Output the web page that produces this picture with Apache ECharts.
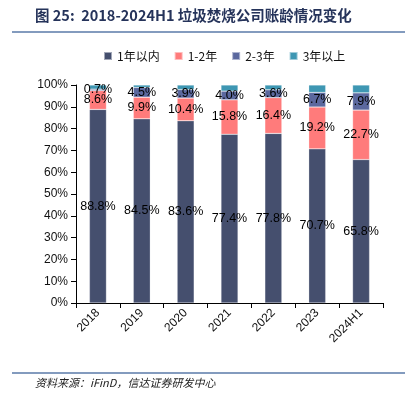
<!DOCTYPE html>
<html><head><meta charset="utf-8">
<script src="https://cdn.jsdelivr.net/npm/echarts@6/dist/echarts.min.js"></script>
<style>html,body{margin:0;padding:0;background:#fff}#c{width:415px;height:395px}</style>
</head><body><div id="c"></div>
<script>
const categories = ['2018','2019','2020','2021','2022','2023','2024H1'];
const within1 = [88.8, 84.5, 83.6, 77.4, 77.8, 70.7, 65.8];
const y1to2 = [8.6, 9.9, 10.4, 15.8, 16.4, 19.2, 22.7];
const y2to3 = [0.7, 4.5, 3.9, 4.0, 3.6, 6.7, 7.9];
const over3 = [1.9, 1.1, 2.1, 2.8, 2.2, 3.4, 3.6];
const seriesNames = ['1年以内','1-2年','2-3年','3年以上'];
const colors = ['#454f6e','#ff7b7b','#5b689e','#3e97b3'];

const chart = echarts.init(document.getElementById('c'), null, {renderer:'canvas'});
const lbl = {show:true, position:'inside', color:'#000', fontSize:12.5, fontFamily:'Liberation Sans, Arial', formatter: p => p.value.toFixed(1)+'%'};
function mk(i, data, showLabel){
  return {name:seriesNames[i], type:'bar', stack:'a', data:data, barWidth:17,
    itemStyle:{color:colors[i], borderColor:'rgba(255,255,255,0.5)', borderWidth:0.5},
    label: showLabel ? lbl : {show:false}};
}
chart.setOption({
  animation:false,
  graphic:[
    {type:'text', left:35, top:8, style:{text:'图 25:  2018-2024H1 垃圾焚烧公司账龄情况变化', font:'bold 14.5px "Noto Sans CJK SC", sans-serif', fill:'#25335a'}},
    {type:'line', shape:{x1:12,y1:32,x2:405,y2:32}, style:{stroke:'#5a7aa8', lineWidth:1.5}},
    {type:'line', shape:{x1:12,y1:373,x2:405,y2:373}, style:{stroke:'#5a7aa8', lineWidth:1.5}},
    {type:'text', left:35, top:377, style:{text:'资料来源：iFinD，信达证券研发中心', font:'italic 11px "Noto Sans CJK SC", sans-serif', fill:'#222'}}
  ],
  legend:{top:45, left:98, itemWidth:8, itemHeight:8, itemGap:14, icon:'rect',
    textStyle:{fontSize:12, color:'#111', fontFamily:'"Noto Sans CJK SC", sans-serif'}, data:seriesNames},
  grid:{left:76, right:32, top:85, bottom:92},
  xAxis:{type:'category', data:categories,
    axisLine:{lineStyle:{color:'#000'}},
    axisTick:{show:true, alignWithLabel:false, lineStyle:{color:'#000'}},
    axisLabel:{rotate:45, color:'#111', fontSize:12, fontFamily:'Liberation Sans, Arial', margin:8}},
  yAxis:{type:'value', min:0, max:100, interval:10,
    axisLine:{show:true, lineStyle:{color:'#000'}},
    axisTick:{show:true, lineStyle:{color:'#000'}},
    splitLine:{show:false},
    axisLabel:{formatter:'{value}%', color:'#111', fontSize:12, fontFamily:'Liberation Sans, Arial', margin:8}},
  series:[mk(0,within1,true), mk(1,y1to2,true), mk(2,y2to3,true), mk(3,over3,false)]
});
</script></body></html>
